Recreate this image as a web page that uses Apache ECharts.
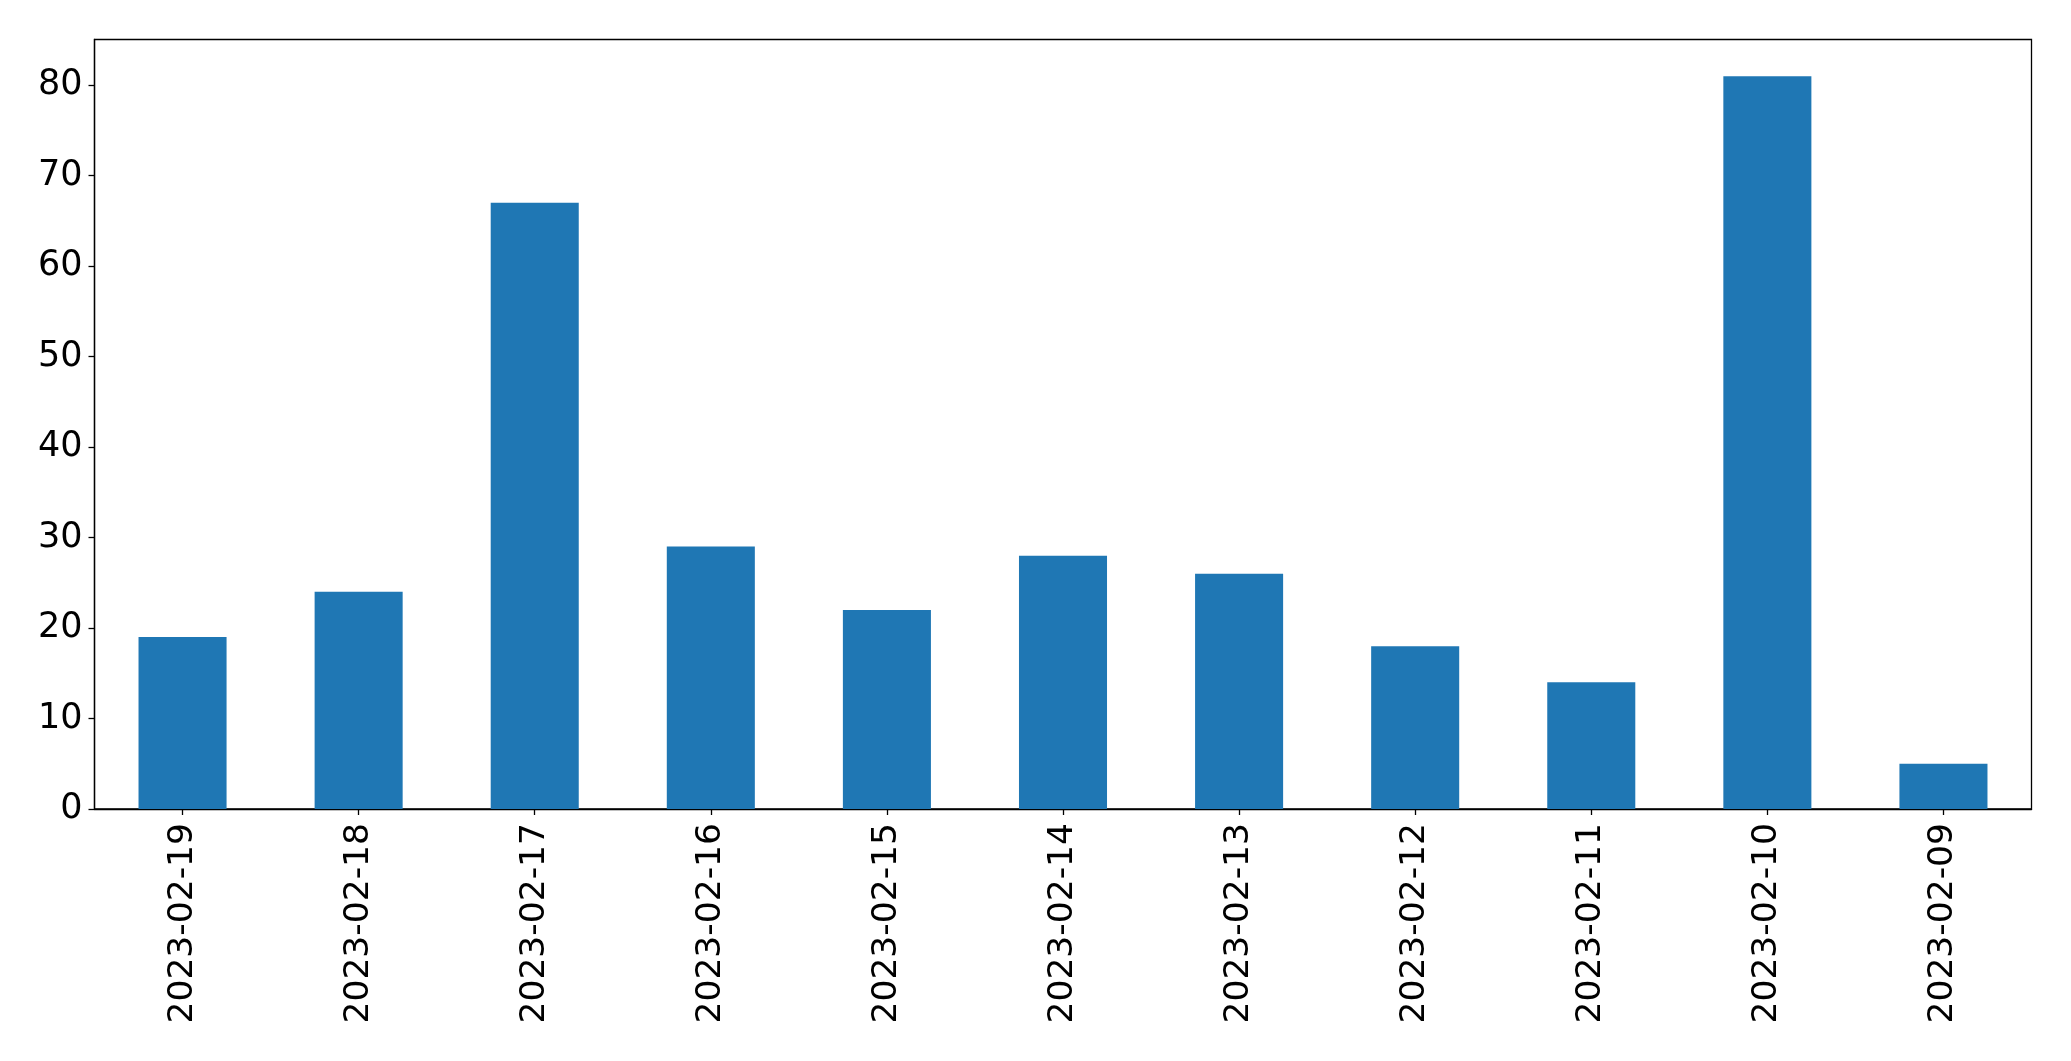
<!DOCTYPE html>
<html>
<head>
<meta charset="utf-8">
<script src="https://cdn.jsdelivr.net/npm/echarts@6/dist/echarts.min.js"></script>
<style>
html,body{margin:0;padding:0;background:#fff;}
#chart{width:2071px;height:1061px;}
</style>
</head>
<body>
<div id="chart"></div>
<script>
const categories = ['2023-02-19','2023-02-18','2023-02-17','2023-02-16','2023-02-15','2023-02-14','2023-02-13','2023-02-12','2023-02-11','2023-02-10','2023-02-09'];
const values = [19, 24, 67, 29, 22, 28, 26, 18, 14, 81, 5];
const yTicks = [0, 10, 20, 30, 40, 50, 60, 70, 80];

const chart = echarts.init(document.getElementById('chart'), null, {renderer: 'canvas'});
const font = 'DejaVu Sans';
chart.setOption({
  animation: false,
  backgroundColor: '#ffffff',
  grid: {
    left: 94.5, right: 39.5, top: 39.5, bottom: 252,
    show: true, borderColor: '#000', borderWidth: 1.3, backgroundColor: 'transparent'
  },
  xAxis: {
    type: 'category',
    data: categories,
    boundaryGap: true,
    axisLine: {show: true, lineStyle: {color: '#000', width: 1.3}},
    axisTick: {show: true, alignWithLabel: true, length: 6, lineStyle: {color: '#000', width: 1.3}},
    axisLabel: {rotate: 90, fontSize: 34.5, fontFamily: font, color: '#000', margin: 14, interval: 0},
    splitLine: {show: false}
  },
  yAxis: {
    type: 'value',
    min: 0, max: 85.05, interval: 10,
    axisLine: {show: true, lineStyle: {color: '#000', width: 1.3}},
    axisTick: {show: true, length: 6, lineStyle: {color: '#000', width: 1.3}, customValues: yTicks},
    axisLabel: {fontSize: 35, fontFamily: font, color: '#000', margin: 12, customValues: yTicks},
    splitLine: {show: false}
  },
  series: [{
    type: 'bar',
    data: values,
    barWidth: '50%',
    itemStyle: {color: '#1f77b4'}
  }]
});
</script>
</body>
</html>
